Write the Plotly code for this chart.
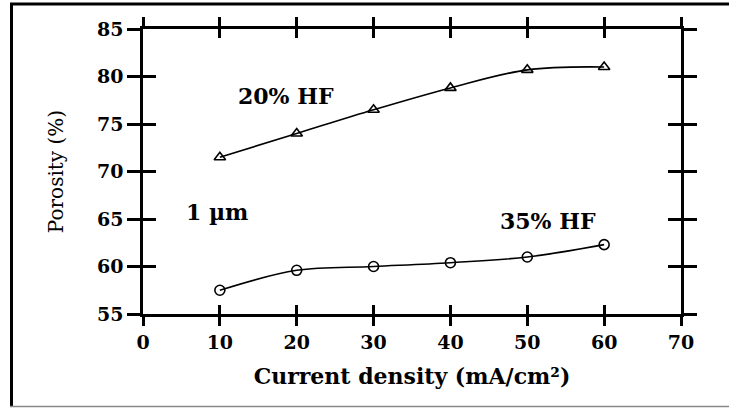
import plotly.graph_objects as go

current_density = [10, 20, 30, 40, 50, 60]
porosity_20hf = [71.5, 74.0, 76.5, 78.8, 80.7, 81.0]
porosity_35hf = [57.5, 59.6, 60.0, 60.4, 61.0, 62.3]
x_ticks = [0, 10, 20, 30, 40, 50, 60, 70]
y_ticks = [55, 60, 65, 70, 75, 80, 85]

W, H = 729, 410
L, R, T, B = 143, 48, 29, 96
pw, ph = W - L - R, H - T - B

def px(x):
    return (x - L) / pw

def py(y):
    return (H - B - y) / ph

fig = go.Figure()
fig.add_trace(go.Scatter(
    x=current_density, y=porosity_20hf, mode="lines+markers",
    line=dict(color="black", width=1.6, shape="spline"),
    marker=dict(symbol="triangle-up-open", size=10, color="black", line=dict(width=1.6)),
    showlegend=False))
fig.add_trace(go.Scatter(
    x=current_density, y=porosity_35hf, mode="lines+markers",
    line=dict(color="black", width=1.6, shape="spline"),
    marker=dict(symbol="circle-open", size=10, color="black", line=dict(width=1.6)),
    showlegend=False))

tickfont = dict(family="DejaVu Serif", size=19, color="black", weight="bold")
common = dict(showgrid=False, zeroline=False, showline=True, linecolor="black",
              linewidth=2.5, tickcolor="black", tickwidth=2.5, automargin=False)

fig.update_layout(
    width=W, height=H,
    margin=dict(l=L, r=R, t=T, b=B),
    paper_bgcolor="white", plot_bgcolor="white",
    xaxis=dict(range=[0, 70], tickvals=x_ticks, ticks="outside", ticklen=9,
               mirror="ticks", tickfont=tickfont,
               title=dict(text="<b>Current density (mA/cm²)</b>",
                          font=dict(family="DejaVu Serif", size=22, color="black"),
                          standoff=18), **common),
    yaxis=dict(range=[55, 85], tickvals=y_ticks, ticks="outside", ticklen=13,
               mirror="ticks", tickfont=tickfont,
               title=dict(text="Porosity (%)",
                          font=dict(family="DejaVu Serif", size=20, color="black"),
                          standoff=28), **common),
    xaxis2=dict(range=[0, 70], tickvals=x_ticks, ticks="inside", ticklen=9,
                mirror="ticks", overlaying="x", showticklabels=False, **common),
    yaxis2=dict(range=[55, 85], tickvals=y_ticks, ticks="inside", ticklen=13,
                mirror="ticks", overlaying="y", showticklabels=False, **common),
)
fig.add_trace(go.Scatter(x=[None], y=[None], xaxis="x2", yaxis="y2", showlegend=False,
                         hoverinfo="skip"))

annot_font = dict(family="DejaVu Serif", size=22, color="black")
for txt, x, y in [("<b>20% HF</b>", 18.6, 78.0), ("<b>1 µm</b>", 9.6, 65.7),
                  ("<b>35% HF</b>", 52.7, 64.8)]:
    fig.add_annotation(x=x, y=y, text=txt, showarrow=False, font=annot_font,
                       xanchor="center", yanchor="middle")

# outer frame
fig.add_shape(type="line", xref="paper", yref="paper", x0=px(11.5), x1=px(11.5),
              y0=py(3), y1=py(407), line=dict(color="black", width=3))
fig.add_shape(type="line", xref="paper", yref="paper", x0=px(10), x1=px(729),
              y0=py(4), y1=py(4), line=dict(color="black", width=3))
fig.add_shape(type="line", xref="paper", yref="paper", x0=px(10), x1=px(729),
              y0=py(406.5), y1=py(406.5), line=dict(color="#888888", width=1.5))

fig.write_html("out.html", config={"displayModeBar": False},
               post_script="document.body.style.margin='0';")
